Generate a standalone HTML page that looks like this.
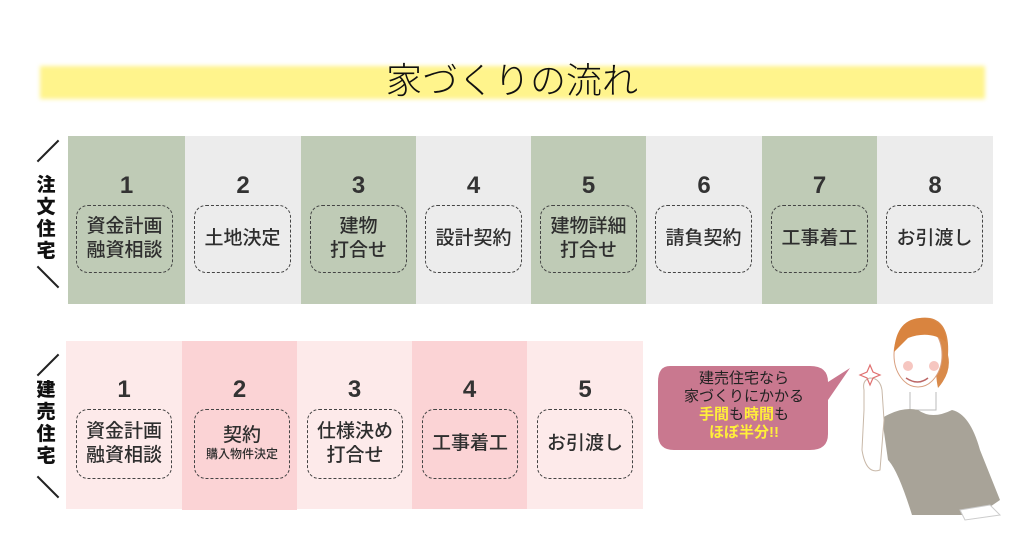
<!DOCTYPE html>
<html><head><meta charset="utf-8"><style>
*{margin:0;padding:0;box-sizing:border-box}
body{width:1024px;height:550px;background:#fff;position:relative;overflow:hidden;font-family:"Liberation Sans","Noto Sans CJK JP",sans-serif;color:#3a3a3a}
.a{position:absolute}
.col{position:absolute}
.num{position:absolute;left:0;right:0;text-align:center;font-weight:bold;font-size:24px;color:#333}
.box{position:absolute;border:1.3px dashed #444;border-radius:12px;display:flex;flex-direction:column;align-items:center;justify-content:center;font-size:19px;line-height:24px;text-align:center;color:#2e2e2e;font-weight:500}
.side{position:absolute;width:30px;text-align:center;font-weight:900;font-size:19px;line-height:22px;color:#111}
.sl{position:absolute;width:30px;height:2px;background:#222}
</style></head><body>
<div class="a" style="left:40px;top:66px;width:945px;height:33px;background:#fff48c;filter:blur(2px)"></div>
<div class="a" style="left:0;width:1024px;top:58px;text-align:center;font-size:36px;line-height:46px;color:#111;font-weight:300">家づくりの流れ</div>

<div class="sl" style="left:33px;top:150px;transform:rotate(-45deg)"></div>
<div class="side" style="left:31px;top:175px">注<br>文<br>住<br>宅</div>
<div class="sl" style="left:33px;top:276px;transform:rotate(45deg)"></div>
<div class="sl" style="left:33px;top:364px;transform:rotate(-45deg)"></div>
<div class="side" style="left:31px;top:380px">建<br>売<br>住<br>宅</div>
<div class="sl" style="left:33px;top:486px;transform:rotate(45deg)"></div>

<div class="col" style="left:68px;top:136px;width:117px;height:168px;background:#bfcbb6"><div class="num" style="top:36px">1</div><div class="box" style="left:8px;top:69px;width:97px;height:68px">資金計画<br>融資相談</div></div>
<div class="col" style="left:185px;top:136px;width:116px;height:168px;background:#ececec"><div class="num" style="top:36px">2</div><div class="box" style="left:9px;top:69px;width:97px;height:68px">土地決定</div></div>
<div class="col" style="left:301px;top:136px;width:115px;height:168px;background:#bfcbb6"><div class="num" style="top:36px">3</div><div class="box" style="left:9px;top:69px;width:97px;height:68px">建物<br>打合せ</div></div>
<div class="col" style="left:416px;top:136px;width:115px;height:168px;background:#ececec"><div class="num" style="top:36px">4</div><div class="box" style="left:9px;top:69px;width:97px;height:68px">設計契約</div></div>
<div class="col" style="left:531px;top:136px;width:115px;height:168px;background:#bfcbb6"><div class="num" style="top:36px">5</div><div class="box" style="left:9px;top:69px;width:97px;height:68px">建物詳細<br>打合せ</div></div>
<div class="col" style="left:646px;top:136px;width:116px;height:168px;background:#ececec"><div class="num" style="top:36px">6</div><div class="box" style="left:9px;top:69px;width:97px;height:68px">請負契約</div></div>
<div class="col" style="left:762px;top:136px;width:115px;height:168px;background:#bfcbb6"><div class="num" style="top:36px">7</div><div class="box" style="left:9px;top:69px;width:97px;height:68px">工事着工</div></div>
<div class="col" style="left:877px;top:136px;width:116px;height:168px;background:#ececec"><div class="num" style="top:36px">8</div><div class="box" style="left:9px;top:69px;width:97px;height:68px">お引渡し</div></div>

<div class="col" style="left:66px;top:341px;width:116px;height:168px;background:#fdeaea"><div class="num" style="top:35px">1</div><div class="box" style="left:10px;top:68px;width:96px;height:70px">資金計画<br>融資相談</div></div>
<div class="col" style="left:182px;top:341px;width:115px;height:169px;background:#fbd3d5"><div class="num" style="top:35px">2</div><div class="box" style="left:12px;top:68px;width:96px;height:70px;line-height:20px">契約<br><span style="font-size:12px;line-height:16px">購入物件決定</span></div></div>
<div class="col" style="left:297px;top:341px;width:115px;height:168px;background:#fdeaea"><div class="num" style="top:35px">3</div><div class="box" style="left:10px;top:68px;width:96px;height:70px">仕様決め<br>打合せ</div></div>
<div class="col" style="left:412px;top:341px;width:115px;height:168px;background:#fbd3d5"><div class="num" style="top:35px">4</div><div class="box" style="left:10px;top:68px;width:96px;height:70px">工事着工</div></div>
<div class="col" style="left:527px;top:341px;width:116px;height:168px;background:#fdeaea"><div class="num" style="top:35px">5</div><div class="box" style="left:10px;top:68px;width:96px;height:70px">お引渡し</div></div>

<svg class="a" style="left:650px;top:360px" width="210" height="100">
<path d="M20 6 H160 Q178 6 178 22 L200 8 L178 40 V74 Q178 90 160 90 H24 Q8 90 8 74 V22 Q8 6 20 6Z" fill="#c9788f"/>
</svg>
<div class="a" style="left:658px;top:370px;width:172px;text-align:center;font-size:15px;line-height:18px;color:#222">建売住宅なら<br>家づくりにかかる<br><b style="color:#ffef3a">手間</b>も<b style="color:#ffef3a">時間</b>も<br><b style="color:#ffef3a">ほぼ半分</b><b style="color:#ffef3a">!!</b></div>

<svg class="a" style="left:840px;top:310px" width="184" height="215">
<path d="M60 25 Q70 5 90 8 Q110 12 108 45 Q112 62 98 78 Q94 60 98 40 Z" fill="#d98a4a"/>
<ellipse cx="78" cy="45" rx="24" ry="32" fill="#fff" stroke="#d9a080"/>
<path d="M54 42 Q56 6 86 8 Q106 12 106 32 Q90 20 68 28 Z" fill="#d9843f"/>
<circle cx="68" cy="56" r="5" fill="#f6c6c0"/><circle cx="94" cy="56" r="5" fill="#f6c6c0"/>
<path d="M66 68 Q78 76 88 68" fill="none" stroke="#b66" stroke-width="1.5"/>
<path d="M70 82 L70 100 L96 100 L96 82" fill="#fff" stroke="#bbb"/>
<path d="M42 108 Q62 96 78 100 Q92 110 112 100 Q130 104 140 140 L160 190 L138 205 L72 205 Q58 160 48 150 Z" fill="#a8a398"/>
<path d="M24 80 Q22 70 30 68 Q40 68 42 80 L44 110 L40 160 Q26 165 22 140 L24 100Z" fill="#fff" stroke="#c8b8a8"/>
<path d="M120 200 L150 195 L160 205 L125 210Z" fill="#fff" stroke="#ccc"/>
<path d="M30 55 L33 62 L40 65 L33 68 L30 75 L27 68 L20 65 L27 62Z" fill="none" stroke="#e07070" stroke-width="1.2"/>
</svg>
</body></html>
